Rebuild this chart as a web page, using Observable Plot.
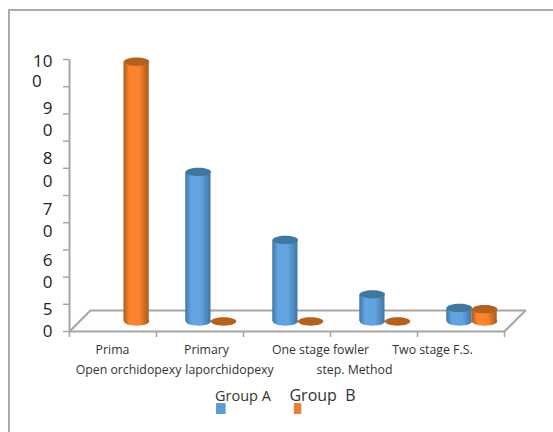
<!DOCTYPE html>
<html>
<head>
<meta charset="utf-8">
<script src="https://cdn.jsdelivr.net/npm/d3@7"></script>
<script src="https://cdn.jsdelivr.net/npm/@observablehq/plot@0.6"></script>
<style>
  html, body { margin: 0; padding: 0; background: #fff; }
  #chart { position: relative; width: 553px; height: 432px; overflow: hidden; }
  #chart svg { position: absolute; left: 0; top: 0; }
  #border { position: absolute; left: 8px; top: 9px; width: 560px; height: 440px;
            border-left: 2px solid #ababab; border-top: 2px solid #ababab; }
</style>
</head>
<body>
<div id="chart"><div id="border"></div></div>
<script>
// Operation counts per method and group; category positions are 0..4 along x.
const groupA = [null, 55, 30, 10, 5];
const groupB = [95.5, 0, 0, 0, 4.5];

// Tick positions on the two axes.
const yTicks = d3.range(0, 101, 10);
const xTicks = [0, 1, 2, 3, 4, 5];

// The value labels wrap inside a narrow box, so each fragment has its own row.
const yLabelText = ["10", "0", "9", "0", "8", "0", "7", "0", "6", "0", "5", "0"];
const yLabelAt = [99.3, 91.8, 82, 74, 63.5, 55, 44.8, 36.8, 26, 18, 8, 0];
const yLabelX = [-0.195, -0.32, -0.195, -0.195, -0.195, -0.195, -0.195, -0.195, -0.195, -0.195, -0.195, -0.195];

// Category labels, broken over two rows.
const catText = ["Prima", "Open orchidopexy", "Primary", "laporchidopexy", "One stage fowler", "step. Method", "Two stage F.S."];
const catX = [0.494, 0.678, 1.575, 1.839, 2.885, 3.276, 4.172];
const catY = [-7, -14, -7, -14, -7, -14, -7];

// Legend entries.
const legendText = ["Group A", "Group  B"];
const legendX = [1.994, 2.908];
const legendY = [-23.8, -23.6];
const legendSize = [14.5, 16];
const legendColor = ["#5b9bd5", "#ed7d31"];
const legendX1 = [1.69, 2.585];
const legendX2 = [1.8, 2.67];
const legendY1 = [-26.5, -26.5];
const legendY2 = [-30.5, -30.5];

// Floor of the 3D plot area: a parallelogram leaning back from the x axis.
const floorX = [0, 5, 5.241, 0.241, 0];
const floorY = [0, 0, 7.7, 7.7, 0];

const barWidth = 0.29;
const depthX = 11, depthY = -10;

const bars = [
  ...groupA.map((v, i) => ({i, v, group: "A", c: i + 0.5 - barWidth / 2})),
  ...groupB.map((v, i) => ({i, v, group: "B", c: i + 0.5 + barWidth / 2}))
].filter((d) => d.v !== null);
const solid = bars.filter((d) => d.v > 0);
const paint = (d) => (d.group === "A" ? "url(#cylA)" : "url(#cylB)");
const capColor = (d) => (d.group === "A" ? "#41779f" : "#b5601c");

// Flattened circle, seen from slightly above.
const ellipse = {
  draw(ctx, size) {
    const rx = Math.sqrt(size / Math.PI), ry = rx * 0.33, k = 0.5523;
    ctx.moveTo(-rx, 0);
    ctx.bezierCurveTo(-rx, -ry * k, -rx * k, -ry, 0, -ry);
    ctx.bezierCurveTo(rx * k, -ry, rx, -ry * k, rx, 0);
    ctx.bezierCurveTo(rx, ry * k, rx * k, ry, 0, ry);
    ctx.bezierCurveTo(-rx * k, ry, -rx, ry * k, -rx, 0);
    ctx.closePath();
  }
};

// Horizontal shading that gives the bars their rounded look.
function gradients() {
  const defs = d3.create("svg:defs");
  [["cylA", "#3f76a6", "#61a4e0"], ["cylB", "#a95c1c", "#fb822e"]].forEach(([id, edge, mid]) => {
    const g = defs.append("linearGradient").attr("id", id);
    [[0, edge], [0.22, mid], [0.62, mid], [1, edge]].forEach(([o, c]) =>
      g.append("stop").attr("offset", o).attr("stop-color", c));
  });
  return defs.node();
}

const font = "'Open Sans', 'Noto Sans', sans-serif";
const axisGray = "#a6a6a6";

const plot = Plot.plot({
  width: 553,
  height: 432,
  margin: 0,
  style: {background: "transparent", fontFamily: font, overflow: "visible"},
  x: {domain: [0, 5], range: [69, 504], axis: null},
  y: {domain: [0, 100], range: [331, 59], axis: null},
  marks: [
    gradients,
    // floor
    Plot.line(floorX.map((x, k) => ({x, y: floorY[k]})), {x: "x", y: "y", stroke: axisGray, strokeWidth: 2, fill: "#fdfdfd", clip: false}),
    // axes
    Plot.axisY({ticks: yTicks, tickSize: 6, tickFormat: () => "", stroke: axisGray, strokeWidth: 1.5, anchor: "left", x: 0, label: null}),
    Plot.ruleX([0], {y1: 0, y2: 100, stroke: axisGray, strokeWidth: 2}),
    Plot.axisX({ticks: xTicks, tickSize: 6, tickFormat: () => "", stroke: axisGray, strokeWidth: 1.5, anchor: "bottom", y: 0, label: null}),
    // cylinders: foot, body, cap
    Plot.dot(solid, {x: "c", y: () => 0, r: barWidth * 87 / 2, symbol: ellipse, fill: paint, stroke: null, dx: depthX, dy: depthY}),
    Plot.rect(solid, {x1: (d) => d.c - barWidth / 2, x2: (d) => d.c + barWidth / 2, y1: () => 0, y2: "v", fill: paint, dx: depthX, dy: depthY, inset: 0}),
    Plot.dot(bars, {x: "c", y: "v", r: barWidth * 87 / 2, symbol: ellipse, fill: capColor, stroke: null, dx: depthX, dy: depthY}),
    // value labels
    Plot.text(yLabelText, {x: (d, k) => yLabelX[k], y: (d, k) => yLabelAt[k], text: (d) => d, textAnchor: "end", fontSize: 17, fill: "#222", clip: false}),
    // category labels
    Plot.text(catText, {x: (d, k) => catX[k], y: (d, k) => catY[k], text: (d) => d, fontSize: 12.3, fill: "#333"}),
    // legend
    Plot.text(legendText, {x: (d, k) => legendX[k], y: (d, k) => legendY[k], text: (d) => d, fontSize: (d, k) => legendSize[k], fill: "#333"}),
    Plot.rect(legendColor, {x1: (d, k) => legendX1[k], x2: (d, k) => legendX2[k], y1: (d, k) => legendY1[k], y2: (d, k) => legendY2[k], fill: (d) => d})
  ]
});

document.getElementById("chart").appendChild(plot);
</script>
</body>
</html>
